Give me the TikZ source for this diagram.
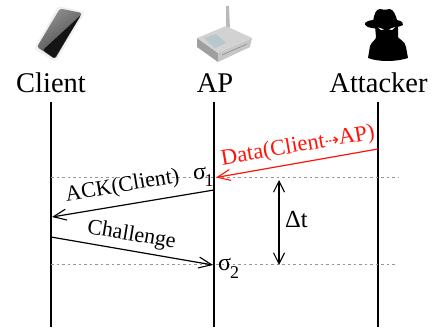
\documentclass[tikz,border=0pt]{standalone}
\usepackage{fontspec}
\setmainfont{Liberation Serif}
\newfontfamily\symfont{DejaVu Sans}
\usetikzlibrary{arrows.meta}
\definecolor{dotgray}{RGB}{150,150,150}
\definecolor{datared}{RGB}{255,20,10}
\tikzset{
  x=1pt,y=-1pt,
  actor/.style={font=\fontsize{28.5}{30}\selectfont,anchor=base,inner sep=0pt},
  lifeline/.style={draw=black,line width=1.2pt},
  slot/.style={draw=dotgray,line width=1pt,dash pattern=on 2.5pt off 3pt},
  msg/.style={line width=1.2pt,-{Straight Barb[length=13pt,width=11pt,line width=1.1pt]}},
  both/.style={line width=1.2pt,{Straight Barb[length=11pt,width=11pt,line width=1.1pt]}-{Straight Barb[length=11pt,width=11pt,line width=1.1pt]}},
  msglabel/.style={font=\fontsize{22}{24}\selectfont,inner sep=0pt},
  sigma/.style={font=\fontsize{24}{26}\selectfont,anchor=base west,inner sep=0pt},
  subs/.style={font=\fontsize{18}{20}\selectfont,anchor=base west,inner sep=0pt}
}
\begin{document}
\begin{tikzpicture}
\useasboundingbox (0,0) rectangle (432,329);
\fill[white] (0,0) rectangle (432,329);

% phone icon
\fill[gray!12,rounded corners=3pt] (58,6) -- (85,12) -- (56,62) -- (34,49) -- cycle;
\shade[left color=gray!85,right color=black!75,shading angle=35,rounded corners=2.5pt]
  (60,8.5) -- (82,13) -- (55,59) -- (37,47) -- cycle;
\fill[black!92,rounded corners=2pt] (81,15) -- (54.5,58.5) -- (43,50) -- cycle;

% router icon
\fill[gray!55] (226,6) -- (229,6) -- (230,30) -- (226,30) -- cycle;
\fill[gray!75] (197,38) -- (218,53) -- (218,62) -- (197,47) -- cycle;
\fill[gray!45] (218,53) -- (252,38) -- (250,47) -- (218,62) -- cycle;
\fill[gray!35] (197,38) -- (226,26) -- (252,38) -- (218,53) -- cycle;
\fill[cyan!20!gray!55] (204,38) -- (216,34) -- (226,43) -- (215,48) -- cycle;
\draw[gray!85,line width=.7pt] (222,55) -- (247,44);

% attacker icon
\fill[black] (373,22) .. controls (374,14) and (376,9) .. (380,9)
  .. controls (384,10) and (387,10) .. (390,9) .. controls (394,10) and (396,16) .. (397,20)
  .. controls (402,21) and (404,23) .. (403,25) .. controls (396,29) and (375,30) .. (368,27)
  .. controls (362,24) and (365,21) .. (373,20) -- cycle;
\fill[black] (375,26) -- (398,24) -- (398,37) .. controls (400,40) and (405,41) .. (406,47)
  -- (408,58) .. controls (396,62) and (378,62) .. (368,58)
  -- (370,46) .. controls (372,41) and (376,40) .. (376,37) -- cycle;
\fill[white] (378,27.5) -- (384,29.3) -- (381,30) -- cycle;
\fill[white] (395,27) -- (389,29.3) -- (392,30) -- cycle;

% actors
\node[actor] (client) at (51,93) {Client};
\node[actor] (ap) at (215,93) {AP};
\node[actor] (attacker) at (378.5,93) {Attacker};

\coordinate (clientTop) at (51,102);
\coordinate (clientEnd) at (51,327);
\coordinate (apTop) at (214,102);
\coordinate (apEnd) at (214,327);
\coordinate (attTop) at (378,102);
\coordinate (attEnd) at (378,327);
\draw[lifeline] (clientTop) -- (clientEnd);
\draw[lifeline] (apTop) -- (apEnd);
\draw[lifeline] (attTop) -- (attEnd);

% time slots
\coordinate (s1a) at (51,177.5);
\coordinate (s1b) at (398,177.5);
\coordinate (s2a) at (51,264.5);
\coordinate (s2b) at (397,264.5);
\draw[slot] (s1a) -- (s1b);
\draw[slot] (s2a) -- (s2b);

% messages
\coordinate (dataFrom) at (378,149);
\coordinate (dataTo) at (216,177.5);
\coordinate (ackFrom) at (214,190);
\coordinate (ackTo) at (52,217);
\coordinate (chFrom) at (51,237);
\coordinate (chTo) at (213,265);
\draw[msg,draw=datared] (dataFrom) -- (dataTo);
\draw[msg] (ackFrom) -- (ackTo);
\draw[msg] (chFrom) -- (chTo);

\node[msglabel,font=\fontsize{22.5}{24}\selectfont,text=datared,rotate=9.8] (datalabel) at (298,146.5)
  {Data(Client{\symfont\fontsize{17}{17}\selectfont ⇢}AP)};
\node[msglabel,rotate=9.4] (acklabel) at (122.5,186.5) {ACK(Client)};
\node[msglabel,rotate=-9.6] (chlabel) at (131.5,235.5) {Challenge};

% sigma labels
\node[sigma] (sig1) at (193,179) {σ};
\node[subs] (sub1) at (204.5,187) {1};
\node[sigma] (sig2) at (218,271) {σ};
\node[subs] (sub2) at (230,278) {2};

% delta t
\coordinate (dtTop) at (279,180);
\coordinate (dtBot) at (279,265);
\draw[both] (dtTop) -- (dtBot);
\node[font=\fontsize{24.5}{26}\selectfont,anchor=base west,inner sep=0pt] (dt) at (285,228) {Δt};
\end{tikzpicture}
\end{document}
